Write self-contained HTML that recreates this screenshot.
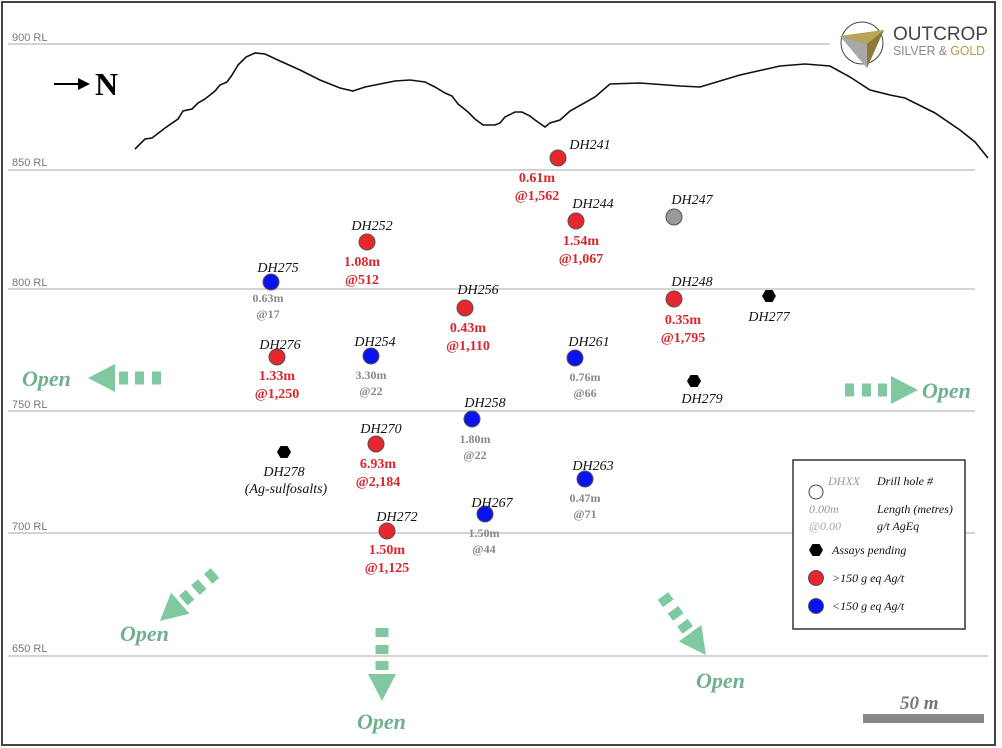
<!DOCTYPE html>
<html><head><meta charset="utf-8"><style>
body{margin:0;background:#fff}
svg{display:block}
.rl{font:11px "Liberation Sans",sans-serif;fill:#777}
.lb{font:italic 14px "Liberation Serif",serif;fill:#111}
.rv{font:bold 14px "Liberation Serif",serif;fill:#d8262d}
.gv{font:bold 12px "Liberation Serif",serif;fill:#888}
.op{font:bold italic 22px "Liberation Serif",serif;fill:#6fb08f}
.lg{font:italic 12px "Liberation Serif",serif;fill:#111}
</style></head><body>
<svg width="1002" height="748" viewBox="0 0 1002 748" xmlns="http://www.w3.org/2000/svg">
<defs>
<g id="arr" fill="#80c9a0">
<rect x="0" y="-6.5" width="9" height="13"/><rect x="17" y="-6.5" width="9" height="13"/><rect x="33" y="-6.5" width="9" height="13"/>
<polygon points="46,-14 46,14 73,0"/>
</g>
</defs>
<rect x="2" y="2" width="993" height="743" fill="#fff" stroke="#444" stroke-width="2"/>
<g stroke="#bbb" stroke-width="1.2">
<line x1="8" y1="44" x2="830" y2="44"/>
<line x1="8" y1="170" x2="975" y2="170"/>
<line x1="8" y1="289" x2="975" y2="289"/>
<line x1="8" y1="411" x2="975" y2="411"/>
<line x1="8" y1="533" x2="975" y2="533"/>
<line x1="8" y1="656" x2="988" y2="656"/>
</g>
<text class="rl" x="12" y="41">900 RL</text>
<text class="rl" x="12" y="166">850 RL</text>
<text class="rl" x="12" y="286">800 RL</text>
<text class="rl" x="12" y="408">750 RL</text>
<text class="rl" x="12" y="530">700 RL</text>
<text class="rl" x="12" y="652">650 RL</text>
<!-- logo -->
<circle cx="862" cy="43" r="21" fill="none" stroke="#444" stroke-width="1"/>
<polygon points="840,36 884,30 867,68" fill="#8b7a3a"/>
<polygon points="840,36 867,44 867,68" fill="#a8a8a8"/>
<polygon points="840,36 884,30 867,44" fill="#b8a55a"/>
<text x="893" y="40" textLength="95" lengthAdjust="spacingAndGlyphs" style="font:19px 'Liberation Sans',sans-serif;fill:#444">OUTCROP</text>
<text x="893" y="55" textLength="92" lengthAdjust="spacingAndGlyphs" style="font:13px 'Liberation Sans',sans-serif;fill:#888">SILVER &amp; <tspan style="fill:#b59a3c">GOLD</tspan></text>
<!-- N arrow -->
<line x1="54" y1="84" x2="80" y2="84" stroke="#000" stroke-width="2"/>
<polygon points="78,78 90,84 78,90" fill="#000"/>
<text x="95" y="95" style="font:bold 32px 'Liberation Serif',serif">N</text>
<!-- terrain -->
<polyline fill="none" stroke="#111" stroke-width="1.6" points="135,149 145,139 152,138 165,128 178,119 183,111 192,109 198,103 205,99 215,91 220,85 227,82 232,75 238,65 246,57 255,53 265,54 280,61 300,70 320,80 340,88 353,91 365,87 380,84 395,81 410,80 425,82 435,87 445,93 452,96 458,104 468,112 475,119 483,125 495,125 500,123 505,117 515,112 522,112 530,116 535,120 545,127 550,123 560,120 570,111 595,97 610,84 640,83 680,86 700,87 740,75 780,66 805,64 830,66 850,77 870,90 890,95 905,98 935,113 960,130 975,142 988,158"/>
<!-- arrows -->
<use href="#arr" transform="translate(161,378) rotate(180)"/>
<use href="#arr" transform="translate(845,390)"/>
<use href="#arr" transform="translate(382,628) rotate(90)"/>
<use href="#arr" transform="translate(215,573) rotate(139)"/>
<use href="#arr" transform="translate(663,596) rotate(54)"/>
<text class="op" x="22" y="386">Open</text>
<text class="op" x="922" y="398">Open</text>
<text class="op" x="120" y="641">Open</text>
<text class="op" x="357" y="729">Open</text>
<text class="op" x="696" y="688">Open</text>
<!-- points -->
<g stroke="#555" stroke-width="1">
<circle cx="558" cy="158" r="8" fill="#e8262d"/>
<circle cx="576" cy="221" r="8" fill="#e8262d"/>
<circle cx="674" cy="217" r="8" fill="#999"/>
<circle cx="367" cy="242" r="8" fill="#e8262d"/>
<circle cx="271" cy="282" r="8" fill="#0a12f0"/>
<circle cx="465" cy="308" r="8" fill="#e8262d"/>
<circle cx="674" cy="299" r="8" fill="#e8262d"/>
<circle cx="277" cy="357" r="8" fill="#e8262d"/>
<circle cx="371" cy="356" r="8" fill="#0a12f0"/>
<circle cx="575" cy="358" r="8" fill="#0a12f0"/>
<circle cx="472" cy="419" r="8" fill="#0a12f0"/>
<circle cx="376" cy="444" r="8" fill="#e8262d"/>
<circle cx="585" cy="479" r="8" fill="#0a12f0"/>
<circle cx="485" cy="514" r="8" fill="#0a12f0"/>
<circle cx="387" cy="531" r="8" fill="#e8262d"/>
</g>
<g fill="#000">
<polygon points="762,296 765.5,290 772.5,290 776,296 772.5,302 765.5,302"/>
<polygon points="687,381 690.5,375 697.5,375 701,381 697.5,387 690.5,387"/>
<polygon points="277,452 280.5,446 287.5,446 291,452 287.5,458 280.5,458"/>
</g>
<g text-anchor="middle">
<text class="lb" x="590" y="149">DH241</text><text class="rv" x="537" y="182">0.61m</text><text class="rv" x="537" y="200">@1,562</text>
<text class="lb" x="593" y="208">DH244</text><text class="rv" x="581" y="245">1.54m</text><text class="rv" x="581" y="263">@1,067</text>
<text class="lb" x="692" y="204">DH247</text>
<text class="lb" x="372" y="230">DH252</text><text class="rv" x="362" y="266">1.08m</text><text class="rv" x="362" y="284">@512</text>
<text class="lb" x="278" y="272">DH275</text><text class="gv" x="268" y="302">0.63m</text><text class="gv" x="268" y="318">@17</text>
<text class="lb" x="478" y="294">DH256</text><text class="rv" x="468" y="332">0.43m</text><text class="rv" x="468" y="350">@1,110</text>
<text class="lb" x="692" y="286">DH248</text><text class="rv" x="683" y="324">0.35m</text><text class="rv" x="683" y="342">@1,795</text>
<text class="lb" x="769" y="321">DH277</text>
<text class="lb" x="280" y="349">DH276</text><text class="rv" x="277" y="380">1.33m</text><text class="rv" x="277" y="398">@1,250</text>
<text class="lb" x="375" y="346">DH254</text><text class="gv" x="371" y="379">3.30m</text><text class="gv" x="371" y="395">@22</text>
<text class="lb" x="589" y="346">DH261</text><text class="gv" x="585" y="381">0.76m</text><text class="gv" x="585" y="397">@66</text>
<text class="lb" x="702" y="403">DH279</text>
<text class="lb" x="485" y="407">DH258</text><text class="gv" x="475" y="443">1.80m</text><text class="gv" x="475" y="459">@22</text>
<text class="lb" x="381" y="433">DH270</text><text class="rv" x="378" y="468">6.93m</text><text class="rv" x="378" y="486">@2,184</text>
<text class="lb" x="284" y="476">DH278</text><text class="lb" x="286" y="493">(Ag-sulfosalts)</text>
<text class="lb" x="593" y="470">DH263</text><text class="gv" x="585" y="502">0.47m</text><text class="gv" x="585" y="518">@71</text>
<text class="lb" x="492" y="507">DH267</text><text class="gv" x="484" y="537">1.50m</text><text class="gv" x="484" y="553">@44</text>
<text class="lb" x="397" y="521">DH272</text><text class="rv" x="387" y="554">1.50m</text><text class="rv" x="387" y="572">@1,125</text>
</g>
<!-- legend -->
<rect x="793" y="460" width="172" height="169" fill="#fff" stroke="#333" stroke-width="1.5"/>
<text class="lg" x="828" y="485" style="fill:#999">DHXX</text>
<text class="lg" x="877" y="485">Drill hole #</text>
<circle cx="816" cy="492" r="7" fill="#fff" stroke="#444"/>
<text class="lg" x="809" y="513" style="fill:#999">0.00m</text>
<text class="lg" x="877" y="513">Length (metres)</text>
<text class="lg" x="809" y="530" style="fill:#aaa">@0.00</text>
<text class="lg" x="877" y="530">g/t AgEq</text>
<polygon points="809,550 812.5,544 819.5,544 823,550 819.5,556 812.5,556" fill="#000"/>
<text class="lg" x="832" y="554">Assays pending</text>
<circle cx="816" cy="578" r="7.5" fill="#e8262d" stroke="#555"/>
<text class="lg" x="832" y="582">&gt;150 g eq Ag/t</text>
<circle cx="816" cy="606" r="7.5" fill="#0a12f0" stroke="#555"/>
<text class="lg" x="832" y="610">&lt;150 g eq Ag/t</text>
<!-- scale -->
<rect x="863" y="714" width="121" height="9" fill="#888"/>
<text x="900" y="709" style="font:bold italic 19px 'Liberation Serif',serif;fill:#777">50 m</text>
</svg>
</body></html>
